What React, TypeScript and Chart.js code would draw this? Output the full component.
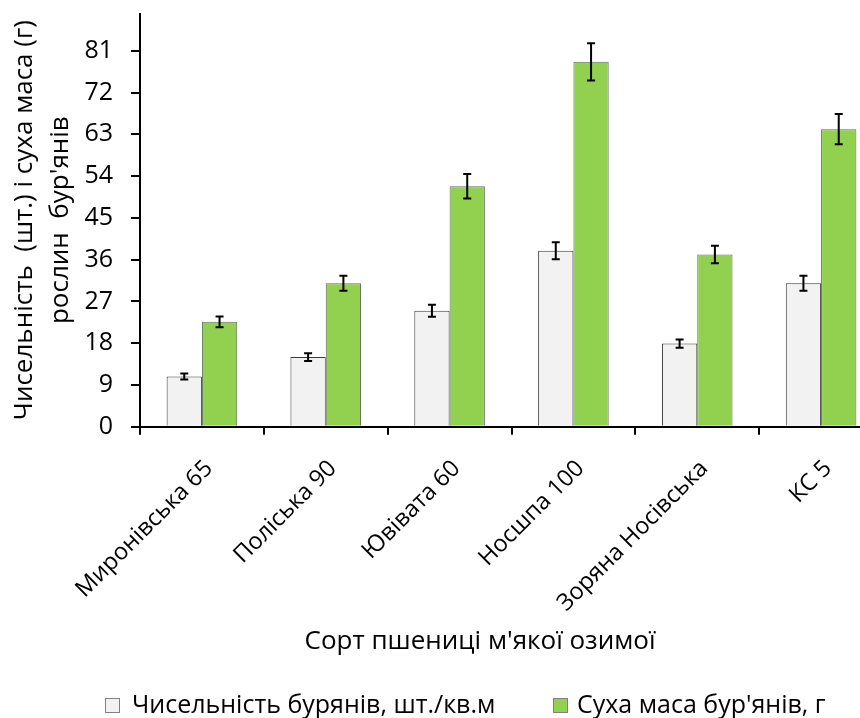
import React, { useEffect, useRef } from "react";
import { Chart, registerables } from "chart.js";

Chart.register(...registerables);

// Wheat varieties
const categories = [
  "Миронівська 65",
  "Поліська 90",
  "Ювівата 60",
  "Носшпа 100",
  "Зоряна Носівська",
  "КС 5",
];

// Weed count, pcs per sq. m, with error
const weedCount = [10.8, 15.0, 25.0, 37.9, 17.9, 30.9];
const weedCountErr = [0.65, 0.85, 1.3, 1.85, 0.9, 1.6];

// Weed dry mass, g, with error
const dryMass = [22.6, 30.9, 51.8, 78.6, 37.1, 64.1];
const dryMassErr = [1.15, 1.6, 2.65, 4.0, 1.9, 3.25];

const seriesLabels = ["Чисельність бурянів, шт./кв.м", "Суха маса бур'янів, г"];
const yTitleLines = ["Чисельність  (шт.) і суха маса (г)", "рослин  бур'янів"];
const xTitle = "Сорт пшениці м'якої озимої";

const yMax = 89;
const yStep = 9;

const FONT = "'Open Sans', 'Liberation Sans', sans-serif";
const errors = [weedCountErr, dryMassErr];

const decorPlugin = {
  id: "decor",
  afterDatasetsDraw(chart: any) {
    const ctx = chart.ctx;
    const yScale = chart.scales.y;
    ctx.save();
    ctx.strokeStyle = "#000";
    ctx.lineWidth = 2;
    chart.data.datasets.forEach((ds: any, i: number) => {
      const meta = chart.getDatasetMeta(i);
      meta.data.forEach((bar: any, j: number) => {
        const v = ds.data[j];
        const e = errors[i][j];
        const x = bar.x;
        const yt = yScale.getPixelForValue(v + e);
        const yb = yScale.getPixelForValue(v - e);
        ctx.beginPath();
        ctx.moveTo(x, yt);
        ctx.lineTo(x, yb);
        ctx.moveTo(x - 4, yt);
        ctx.lineTo(x + 4, yt);
        ctx.moveTo(x - 4, yb);
        ctx.lineTo(x + 4, yb);
        ctx.stroke();
      });
    });
    ctx.restore();
  },
  afterDraw(chart: any) {
    const ctx = chart.ctx;
    const area = chart.chartArea;
    ctx.save();
    ctx.fillStyle = "#000";
    ctx.font = `26px ${FONT}`;

    // y axis title, two rotated lines
    const midY = (area.top + area.bottom) / 2;
    const baseX = [32, 68];
    yTitleLines.forEach((line, k) => {
      ctx.save();
      ctx.translate(baseX[k], midY);
      ctx.rotate(-Math.PI / 2);
      ctx.textAlign = "center";
      ctx.textBaseline = "alphabetic";
      ctx.fillText(line, 0, 0);
      ctx.restore();
    });

    // x axis title
    ctx.textAlign = "center";
    ctx.textBaseline = "alphabetic";
    ctx.fillText(xTitle, 480, 649);

    // legend
    ctx.font = `25px ${FONT}`;
    const swatchX = [105, 553];
    const textX = [132, 577];
    ctx.textAlign = "left";
    chart.data.datasets.forEach((ds: any, i: number) => {
      ctx.fillStyle = ds.backgroundColor;
      ctx.fillRect(swatchX[i], 698, 15, 15);
      ctx.strokeStyle = "#808080";
      ctx.lineWidth = 1;
      ctx.strokeRect(swatchX[i] + 0.5, 698.5, 14, 14);
      ctx.fillStyle = "#000";
      ctx.fillText(ds.label, textX[i], 713);
    });
    ctx.restore();
  },
};

export default function App() {
  const canvasRef = useRef<HTMLCanvasElement | null>(null);

  useEffect(() => {
    if (!canvasRef.current) return;
    const chart = new Chart(canvasRef.current, {
      type: "bar",
      data: {
        labels: categories,
        datasets: [
          {
            label: seriesLabels[0],
            data: weedCount,
            backgroundColor: "#f2f2f2",
            borderColor: "#3a3a3a",
            borderWidth: 1,
          },
          {
            label: seriesLabels[1],
            data: dryMass,
            backgroundColor: "#92d050",
            borderColor: "#5f6f55",
            borderWidth: 1,
          },
        ],
      },
      options: {
        responsive: false,
        animation: false,
        devicePixelRatio: 1,
        layout: { padding: { top: 13.6, right: 17, left: 0, bottom: 0 } },
        datasets: {
          bar: { categoryPercentage: 0.57, barPercentage: 1 },
        },
        plugins: {
          legend: { display: false },
          tooltip: { enabled: false },
          title: { display: false },
        },
        scales: {
          x: {
            grid: {
              display: true,
              drawOnChartArea: false,
              drawTicks: true,
              tickLength: 8,
              lineWidth: 2,
              color: "#000",
              offset: true,
            },
            border: { display: true, color: "#000", width: 2 },
            ticks: {
              autoSkip: false,
              maxRotation: 45,
              minRotation: 45,
              padding: 20,
              labelOffset: 7,
              color: "#000",
              font: { family: FONT, size: 23.5 },
            },
            afterFit(scale: any) {
              scale.height = 291.3;
              scale.paddingLeft = 0;
              scale.paddingRight = 0;
            },
          },
          y: {
            min: 0,
            max: yMax,
            grid: {
              display: true,
              drawOnChartArea: false,
              drawTicks: true,
              tickLength: 9,
              lineWidth: 2,
              color: "#000",
            },
            border: { display: true, color: "#000", width: 2 },
            ticks: {
              stepSize: yStep,
              padding: 18,
              color: "#000",
              font: { family: FONT, size: 25 },
            },
            afterBuildTicks(scale: any) {
              scale.ticks = scale.ticks.filter((t: any) => t.value % yStep === 0);
            },
            afterFit(scale: any) {
              scale.width = 140;
              scale.paddingTop = 0;
              scale.paddingBottom = 0;
            },
          },
        },
      },
      plugins: [decorPlugin],
    });
    return () => chart.destroy();
  }, []);

  return (
    <div
      style={{
        position: "absolute",
        left: 0,
        top: 0,
        width: 860,
        height: 718,
        overflow: "hidden",
        background: "#fff",
      }}
    >
      <canvas ref={canvasRef} width={900} height={718} style={{ display: "block" }} />
    </div>
  );
}
